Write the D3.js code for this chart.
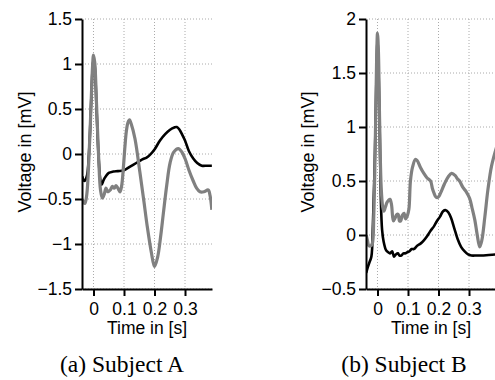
<!DOCTYPE html>
<html><head><meta charset="utf-8">
<script src="https://cdn.jsdelivr.net/npm/d3@7"></script>
<style>
html,body{margin:0;padding:0;background:#fff;}
svg{display:block;}
</style></head>
<body>
<svg id="chart" width="495" height="380"></svg>
<script>
// ---- data ----
const xTicks = [0, 0.1, 0.2, 0.3];
const yTicksA = [-1.5, -1, -0.5, 0, 0.5, 1, 1.5];
const yTicksB = [-0.5, 0, 0.5, 1, 1.5, 2];
const captions = ["(a) Subject A", "(b) Subject B"];
const xLabel = "Time in [s]";
const yLabel = "Voltage in [mV]";

const blackA = [[-0.037,-0.25],[-0.03,-0.30],[-0.022,-0.25],[-0.015,0.0],[-0.008,0.55],[-0.003,0.95],[0,1.05],[0.004,0.98],[0.01,0.5],[0.017,-0.05],[0.023,-0.30],[0.027,-0.34],[0.033,-0.29],[0.04,-0.25],[0.05,-0.21],[0.065,-0.195],[0.08,-0.19],[0.1,-0.18],[0.12,-0.14],[0.14,-0.10],[0.16,-0.06],[0.174,-0.04],[0.185,-0.01],[0.2,0.05],[0.218,0.15],[0.235,0.22],[0.251,0.27],[0.265,0.295],[0.273,0.30],[0.282,0.27],[0.29,0.22],[0.3,0.15],[0.313,0.03],[0.327,-0.05],[0.34,-0.10],[0.355,-0.13],[0.372,-0.13],[0.388,-0.13]];
const greyA = [[-0.037,-0.50],[-0.033,-0.53],[-0.028,-0.55],[-0.022,-0.45],[-0.015,-0.05],[-0.008,0.55],[-0.003,0.98],[0,1.10],[0.004,1.02],[0.01,0.55],[0.017,-0.05],[0.023,-0.40],[0.029,-0.49],[0.035,-0.45],[0.041,-0.38],[0.047,-0.42],[0.055,-0.40],[0.062,-0.36],[0.068,-0.38],[0.074,-0.35],[0.08,-0.38],[0.087,-0.42],[0.092,-0.36],[0.098,-0.15],[0.103,0.08],[0.108,0.26],[0.113,0.35],[0.118,0.38],[0.124,0.33],[0.136,0.17],[0.152,-0.2],[0.165,-0.52],[0.176,-0.80],[0.19,-1.1],[0.2,-1.25],[0.21,-1.15],[0.22,-0.92],[0.229,-0.66],[0.24,-0.35],[0.251,-0.10],[0.263,0.02],[0.278,0.06],[0.29,0.02],[0.3,-0.05],[0.313,-0.18],[0.327,-0.30],[0.338,-0.38],[0.349,-0.42],[0.362,-0.42],[0.376,-0.40],[0.382,-0.46],[0.388,-0.62]];
const blackB = [[-0.037,-0.35],[-0.032,-0.30],[-0.026,-0.25],[-0.02,-0.2],[-0.015,0.1],[-0.008,0.8],[-0.003,1.55],[0,1.8],[0.003,1.6],[0.007,1.0],[0.011,0.33],[0.015,0.05],[0.02,-0.06],[0.028,-0.14],[0.035,-0.16],[0.041,-0.17],[0.048,-0.15],[0.054,-0.20],[0.06,-0.18],[0.067,-0.17],[0.072,-0.19],[0.078,-0.19],[0.085,-0.17],[0.092,-0.17],[0.097,-0.16],[0.105,-0.15],[0.112,-0.13],[0.119,-0.13],[0.13,-0.10],[0.141,-0.08],[0.152,-0.05],[0.163,-0.01],[0.174,0.04],[0.185,0.08],[0.195,0.13],[0.205,0.17],[0.215,0.22],[0.224,0.23],[0.232,0.21],[0.241,0.16],[0.252,0.06],[0.263,-0.04],[0.274,-0.11],[0.285,-0.15],[0.297,-0.18],[0.308,-0.19],[0.325,-0.19],[0.341,-0.19],[0.365,-0.185],[0.391,-0.18]];
const greyB = [[-0.037,0.0],[-0.033,-0.05],[-0.028,-0.10],[-0.022,-0.10],[-0.017,-0.08],[-0.012,0.2],[-0.007,0.9],[-0.003,1.6],[0,1.87],[0.003,1.7],[0.007,1.05],[0.012,0.45],[0.017,0.26],[0.021,0.22],[0.026,0.26],[0.031,0.30],[0.036,0.32],[0.041,0.33],[0.046,0.28],[0.052,0.13],[0.058,0.16],[0.063,0.19],[0.068,0.19],[0.072,0.13],[0.076,0.13],[0.081,0.18],[0.087,0.20],[0.092,0.15],[0.098,0.18],[0.103,0.24],[0.108,0.5],[0.115,0.63],[0.124,0.70],[0.13,0.69],[0.14,0.63],[0.152,0.57],[0.162,0.53],[0.174,0.50],[0.18,0.43],[0.185,0.39],[0.192,0.35],[0.199,0.35],[0.207,0.39],[0.219,0.47],[0.232,0.54],[0.243,0.57],[0.255,0.55],[0.262,0.52],[0.269,0.50],[0.28,0.44],[0.291,0.40],[0.302,0.34],[0.31,0.25],[0.319,0.14],[0.327,0.0],[0.335,-0.11],[0.342,-0.05],[0.352,0.17],[0.362,0.42],[0.374,0.64],[0.391,0.82]];

// ---- drawing ----
const svg = d3.select("#chart");
const plotTop = 19, plotBottom = 289;
const xDomain = [-0.0377, 0.3885];
const fmt = d => (d < 0 ? "\u2212" : "") + String(Math.abs(d));
const sans = "'Liberation Sans', Arial, sans-serif";

const panels = [
  {left: 82, yDomain: [-1.5, 1.5], yTicks: yTicksA, series: [blackA, greyA], capX: 122, yLabX: 31},
  {left: 366, yDomain: [-0.5, 2], yTicks: yTicksB, series: [blackB, greyB], capX: 404, yLabX: 314}
];

panels.forEach((p, i) => {
  const right = p.left + 130;
  const x = d3.scaleLinear().domain(xDomain).range([p.left, right]);
  const y = d3.scaleLinear().domain(p.yDomain).range([plotBottom, plotTop]);
  const g = svg.append("g");

  // grid
  g.append("g").selectAll("line").data(xTicks).join("line")
    .attr("x1", d => x(d)).attr("x2", d => x(d)).attr("y1", plotTop).attr("y2", plotBottom)
    .attr("stroke", "#aaa").attr("stroke-width", 1).attr("stroke-dasharray", "1,2");
  g.append("g").selectAll("line").data(p.yTicks).join("line")
    .attr("x1", p.left).attr("x2", right).attr("y1", d => y(d)).attr("y2", d => y(d))
    .attr("stroke", "#aaa").attr("stroke-width", 1).attr("stroke-dasharray", "1,2");

  // clip
  const cid = "clip" + i;
  svg.append("clipPath").attr("id", cid).append("rect")
    .attr("x", p.left).attr("y", plotTop - 5).attr("width", 130).attr("height", plotBottom - plotTop + 5);

  const line = d3.line().x(d => x(d[0])).y(d => y(d[1])).curve(d3.curveCatmullRom.alpha(0.5));
  const lg = g.append("g").attr("clip-path", `url(#${cid})`);
  lg.append("path").datum(p.series[0]).attr("d", line)
    .attr("fill", "none").attr("stroke", "#000").attr("stroke-width", 2.6).attr("stroke-linejoin", "round");
  lg.append("path").datum(p.series[1]).attr("d", line)
    .attr("fill", "none").attr("stroke", "#808080").attr("stroke-width", 3.2).attr("stroke-linejoin", "round");

  // axes
  const ax = g.append("g").attr("transform", `translate(0,${plotBottom})`)
    .call(d3.axisBottom(x).tickValues(xTicks).tickSize(7).tickSizeOuter(0).tickFormat(fmt));
  const ay = g.append("g").attr("transform", `translate(${p.left},0)`)
    .call(d3.axisLeft(y).tickValues(p.yTicks).tickSize(7).tickSizeOuter(0).tickPadding(3).tickFormat(fmt));
  [ax, ay].forEach(a => {
    a.select(".domain").attr("stroke", "#000").attr("stroke-width", 2);
    a.selectAll(".tick line").attr("stroke", "#000").attr("stroke-width", 2);
    a.selectAll("text").attr("fill", "#000").style("font-family", sans).style("font-size", "17.5px");
  });
  ax.selectAll("text").attr("dy", null).attr("y", 26);

  // axis labels
  g.append("text").attr("x", (p.left + right) / 2).attr("y", 334).attr("text-anchor", "middle")
    .style("font-family", sans).style("font-size", "17.5px").text(xLabel);
  g.append("text").attr("transform", `translate(${p.yLabX},152) rotate(-90)`).attr("text-anchor", "middle")
    .style("font-family", sans).style("font-size", "18px").text(yLabel);

  // caption
  g.append("text").attr("x", p.capX).attr("y", 372).attr("text-anchor", "middle")
    .style("font-family", "'Liberation Serif', 'Times New Roman', serif").style("font-size", "23.5px").text(captions[i]);
});
</script>
</body></html>
